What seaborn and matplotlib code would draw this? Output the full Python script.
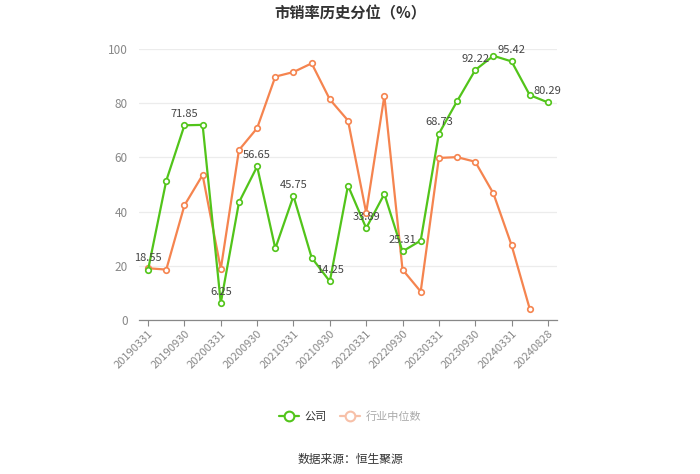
import matplotlib
matplotlib.use("Agg")
import matplotlib.pyplot as plt
import seaborn as sns
import pandas as pd
import numpy as np
from matplotlib.lines import Line2D

dates = ["20190331", "20190630", "20190930", "20191231", "20200331", "20200630",
         "20200930", "20201231", "20210331", "20210630", "20210930", "20211231",
         "20220331", "20220630", "20220930", "20221231", "20230331", "20230630",
         "20230930", "20231231", "20240331", "20240630", "20240828"]
company = [18.55, 51.4, 71.85, 72.0, 6.25, 43.4, 56.65, 26.4, 45.75, 23.0, 14.25, 49.6,
           33.89, 46.5, 25.31, 29.3, 68.73, 80.7, 92.22, 97.5, 95.42, 83.0, 80.29]
industry = [19.1, 18.6, 42.3, 53.5, 18.8, 62.7, 70.8, 89.8, 91.5, 94.7, 81.4, 73.6,
            39.6, 82.7, 18.6, 10.5, 59.8, 60.1, 58.4, 46.7, 27.6, 4.1, np.nan]
labeled = [0, 2, 4, 6, 8, 10, 12, 14, 16, 18, 20, 22]

GREEN = "#52c41a"
ORANGE = "#f5844f"

sns.set_theme(style="white")
plt.rcParams['font.family'] = ['Noto Sans CJK SC', 'DejaVu Sans']

df = pd.DataFrame({"idx": np.arange(len(dates)), "公司": company, "行业中位数": industry})
long = df.melt(id_vars="idx", var_name="series", value_name="value").dropna()

fig = plt.figure(figsize=(7, 4.74), dpi=100)
ax = fig.add_axes([139/700, 1-320/474, 418/700, 271/474])

sns.lineplot(data=long, x="idx", y="value", hue="series",
             palette={"公司": GREEN, "行业中位数": ORANGE},
             hue_order=["公司", "行业中位数"],
             marker="o", markersize=4, markerfacecolor="white",
             markeredgewidth=1.2, linewidth=1.6, legend=False, ax=ax)
for line in ax.get_lines():
    line.set_markeredgecolor(line.get_color())
ax.get_lines()[0].set_zorder(5)

for i in labeled:
    ax.annotate(f"{company[i]:.2f}", (i, company[i]), xytext=(0, 4.5),
                textcoords="offset points", ha="center", va="bottom",
                fontsize=8, color="#444444", zorder=6)

ax.set_xlim(-0.5, len(dates) - 0.5)
ax.set_ylim(0, 100)
ax.set_yticks([0, 20, 40, 60, 80, 100])
ax.set_xticks(labeled)
ax.set_xticklabels([dates[i] for i in labeled], rotation=45, ha="right",
                   rotation_mode="anchor", fontsize=8, color="#888888")
ax.tick_params(axis="y", labelsize=8.5, labelcolor="#888888", length=0, pad=8)
ax.tick_params(axis="x", length=4, color="#888888", width=0.8, pad=2, bottom=True)
ax.set_xlabel("")
ax.set_ylabel("")
ax.grid(axis="y", color="#ececec", linewidth=0.9)
ax.set_axisbelow(True)
for s in ["top", "right", "left"]:
    ax.spines[s].set_visible(False)
ax.spines["bottom"].set_color("#888888")
ax.spines["bottom"].set_linewidth(0.9)

fig.text(0.5, 1-13/474, "市销率历史分位（%）", ha="center", va="center",
         fontsize=11, fontweight="bold", color="#333333")

handles = [Line2D([0], [0], color=GREEN, lw=1.6, marker="o", markersize=7,
                  markerfacecolor="white", markeredgecolor=GREEN, markeredgewidth=1.5),
           Line2D([0], [0], color="#f7c0a8", lw=1.6, marker="o", markersize=7,
                  markerfacecolor="white", markeredgecolor="#f7c0a8", markeredgewidth=1.5)]
leg = fig.legend(handles, ["公司", "行业中位数"], loc="center",
                 bbox_to_anchor=(0.5, 1-417/474), ncol=2, frameon=False,
                 fontsize=8, handlelength=1.8, columnspacing=1.2, handletextpad=0.5)
leg.get_texts()[0].set_color("#333333")
leg.get_texts()[1].set_color("#aaaaaa")

fig.text(0.5, 1-459/474, "数据来源：恒生聚源", ha="center", va="center",
         fontsize=8.5, color="#333333")

fig.savefig("out.png", dpi=100)
